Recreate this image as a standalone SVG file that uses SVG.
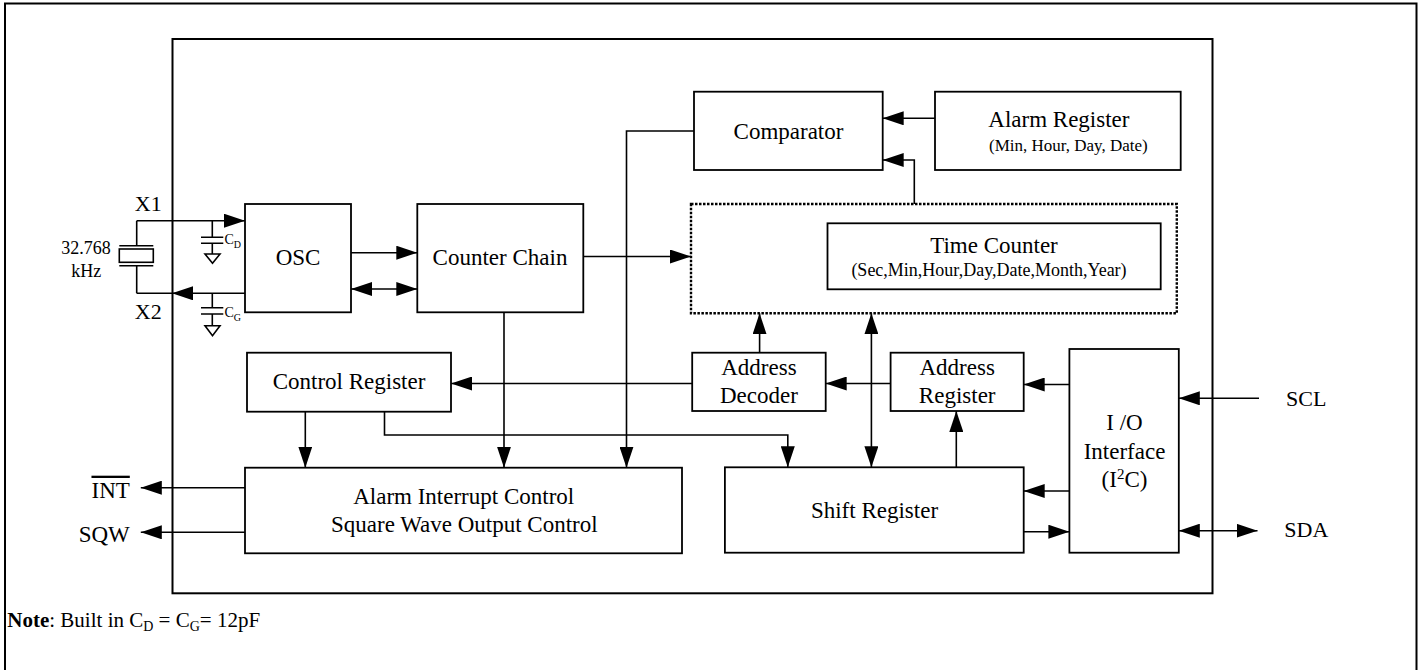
<svg xmlns="http://www.w3.org/2000/svg" width="1421" height="670" viewBox="0 0 1421 670">
<defs>
<marker id="ah" markerUnits="userSpaceOnUse" markerWidth="22" markerHeight="14" refX="21" refY="7" orient="auto-start-reverse" viewBox="0 0 22 14">
<path d="M0,0 L21,7 L0,14 z" fill="#000"/>
</marker>
<style>
.box{fill:#fff;stroke:#000;stroke-width:1.8}
.frame{fill:none;stroke:#000;stroke-width:2}
.ln{fill:none;stroke:#000;stroke-width:1.6}
.arr{fill:none;stroke:#000;stroke-width:1.6;marker-end:url(#ah)}
.dbl{fill:none;stroke:#000;stroke-width:1.6;marker-start:url(#ah);marker-end:url(#ah)}
.t{font-family:"Liberation Serif","Times New Roman",serif;fill:#000}
.l23{font-size:23px;text-anchor:middle}
.s{font-size:17px}
</style>
</defs>
<rect width="1421" height="670" fill="#fff"/>
<path class="frame" d="M5,680 V3.5 H1416.5 V680"/>
<rect id="chip" class="frame" x="172.5" y="39" width="1040" height="554.3"/>

<g id="crystal">
<path class="ln" d="M136.7,220.7 V245.7 M136.7,265.7 V293.3 M119.3,245.7 H153.3 M119.3,265.7 H153.3"/>
<rect class="ln" x="119.3" y="249" width="34" height="13.3"/>
<text class="t" x="110.7" y="254" font-size="18" text-anchor="end">32.768</text>
<text class="t" x="86.2" y="276.7" font-size="18" text-anchor="middle">kHz</text>
<text class="t" x="148.3" y="210.7" font-size="22" text-anchor="middle">X1</text>
<text class="t" x="148.3" y="319.3" font-size="22" text-anchor="middle">X2</text>
</g>

<g id="cap-d">
<path class="ln" d="M212.3,220.7 V237.3 M201,237.3 H223.3 M201,243.3 H223.3 M212.3,243.3 V254"/>
<path class="ln" d="M205,254 H220 L212.5,263.3 z" fill="#fff"/>
<text class="t" x="224.5" y="244" font-size="14">C<tspan font-size="10" dy="4">D</tspan></text>
</g>
<g id="cap-g">
<path class="ln" d="M212.3,293.3 V307.7 M201,307.7 H223.3 M201,314 H223.3 M212.3,314 V325.7"/>
<path class="ln" d="M205,325.7 H220 L212.5,335.7 z" fill="#fff"/>
<text class="t" x="224.5" y="316.7" font-size="14">C<tspan font-size="10" dy="4">G</tspan></text>
</g>

<g id="connectors">
<path class="arr" d="M136.7,220.7 H245"/>
<path class="arr" d="M245,293.3 H172"/>
<path class="ln" d="M172,293.3 H136.7"/>
<path class="arr" d="M351,252.7 H417.3"/>
<path class="dbl" d="M351,289 H417.3"/>
<path class="arr" d="M583.3,256.5 H691"/>
<path class="arr" d="M935,118.3 H882.7"/>
<path class="arr" d="M914.3,204 V160 H882.7"/>
<path class="arr" d="M694,131 H626.5 V467.7"/>
<path class="arr" d="M504,312 V467.7"/>
<path class="arr" d="M305.3,411.7 V467.7"/>
<path class="arr" d="M384.5,411.7 V435 H787.8 V467.3"/>
<path class="arr" d="M692.2,383.5 H451"/>
<path class="arr" d="M759.6,352.7 V313.3"/>
<path class="arr" d="M890.6,383.5 H825.7"/>
<path class="dbl" d="M871.4,313.3 V467.3"/>
<path class="arr" d="M956.3,467.3 V411"/>
<path class="arr" d="M1069.4,384.5 H1023.7"/>
<path class="arr" d="M1069.4,491 H1023.7"/>
<path class="arr" d="M1023.7,531.7 H1069.4"/>
<path class="arr" d="M1259,398.3 H1178.8"/>
<path class="dbl" d="M1178.8,530.7 H1257.5"/>
<path class="arr" d="M245,487.7 H140.8"/>
<path class="arr" d="M245,532.3 H140.8"/>
</g>

<g id="osc">
<rect class="box" x="245" y="204" width="106" height="108.3"/>
<text class="t l23" x="298" y="265">OSC</text>
</g>
<g id="counter-chain">
<rect class="box" x="417.3" y="204" width="166" height="108.3"/>
<text class="t l23" x="500" y="265">Counter Chain</text>
</g>
<g id="comparator">
<rect class="box" x="694" y="91.7" width="188.7" height="78.3"/>
<text class="t l23" x="788.5" y="139.3">Comparator</text>
</g>
<g id="alarm-register">
<rect class="box" x="935" y="91.7" width="245.7" height="78.3"/>
<text class="t" x="988.3" y="126.7" font-size="23">Alarm Register</text>
<text class="t s" x="989" y="150.7">(Min, Hour, Day, Date)</text>
</g>
<g id="time-counter-block">
<rect x="691" y="204" width="485.8" height="109.3" fill="none" stroke="#000" stroke-width="2.4" stroke-dasharray="2.5,1.5"/>
</g>
<g id="time-counter">
<rect class="box" x="827.5" y="223.3" width="333.2" height="66"/>
<text class="t l23" x="994" y="252.7">Time Counter</text>
<text class="t" x="989" y="276" font-size="18" text-anchor="middle">(Sec,Min,Hour,Day,Date,Month,Year)</text>
</g>
<g id="control-register">
<rect class="box" x="247" y="352.7" width="204" height="59"/>
<text class="t l23" x="349" y="389.3">Control Register</text>
</g>
<g id="address-decoder">
<rect class="box" x="692.2" y="352.7" width="133.5" height="58.3"/>
<text class="t l23" x="758.9" y="375">Address</text>
<text class="t l23" x="758.9" y="402.7">Decoder</text>
</g>
<g id="address-register">
<rect class="box" x="890.6" y="352.7" width="133.1" height="58.3"/>
<text class="t l23" x="957.2" y="375">Address</text>
<text class="t l23" x="957.2" y="402.7">Register</text>
</g>
<g id="io-interface">
<rect class="box" x="1069.4" y="349" width="109.4" height="203.7"/>
<text class="t l23" x="1124.5" y="430">I /O</text>
<text class="t l23" x="1124.5" y="459.3">Interface</text>
<text class="t l23" x="1124.5" y="486.7">(I<tspan font-size="15" dy="-8">2</tspan><tspan dy="8">C)</tspan></text>
</g>
<g id="alarm-interrupt">
<rect class="box" x="245" y="467.7" width="437" height="85.6"/>
<text class="t l23" x="463.7" y="504">Alarm Interrupt Control</text>
<text class="t l23" x="464.3" y="531.7">Square Wave Output Control</text>
</g>
<g id="shift-register">
<rect class="box" x="724.9" y="467.3" width="298.8" height="85.4"/>
<text class="t l23" x="874.5" y="518.3">Shift Register</text>
</g>
<g id="pins">
<text class="t" x="1286" y="405.7" font-size="22">SCL</text>
<text class="t" x="1284.3" y="537.3" font-size="22">SDA</text>
<text class="t" x="129.8" y="497.7" font-size="23" text-anchor="end" text-decoration="overline">INT</text>
<text class="t" x="129.8" y="542.3" font-size="23" text-anchor="end">SQW</text>
</g>
<text class="t" x="7.3" y="626.7" font-size="21"><tspan font-weight="bold">Note</tspan>: Built in C<tspan font-size="14" dy="4">D</tspan><tspan dy="-4"> = C</tspan><tspan font-size="14" dy="4">G</tspan><tspan dy="-4">= 12pF</tspan></text>
</svg>
